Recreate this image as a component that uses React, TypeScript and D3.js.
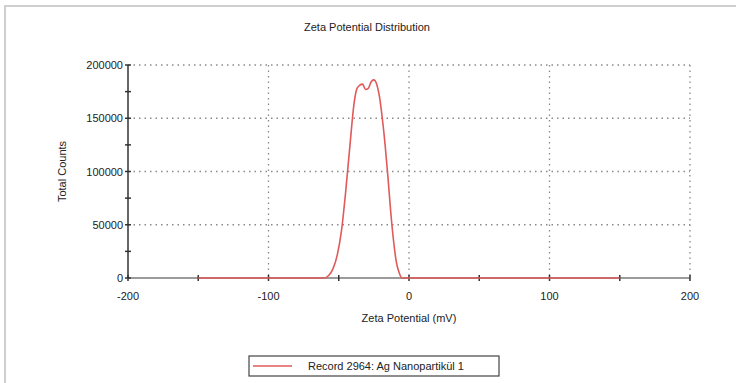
import React from 'react';
import * as d3 from 'd3';

// zeta potential (mV) vs total counts
const potential = [-150, -60, -57, -54, -51, -48, -45, -42, -39, -37, -35, -33, -31, -29, -27, -25, -23, -21, -19, -17, -15, -13, -11, -9, -7, -5, 150];
const counts = [0, 0, 2500, 9000, 22000, 45000, 82000, 125000, 165000, 178000, 181000, 182000, 177000, 178000, 184000, 186000, 182000, 170000, 150000, 125000, 95000, 62000, 35000, 15000, 5000, 0, 0];

const xTicks = [-200, -100, 0, 100, 200];
const xMinor = [-150, -50, 50, 150];
const yTicks = [0, 50000, 100000, 150000, 200000];
const yMinor = [25000, 75000, 125000, 175000];

const title = 'Zeta Potential Distribution';
const xTitle = 'Zeta Potential (mV)';
const yTitle = 'Total Counts';
const legendLabel = 'Record 2964: Ag Nanopartikül 1';

const W = 736;
const H = 383;
const left = 128;
const right = 690;
const top = 65;
const bottom = 278;
const font = '"Liberation Sans", Arial, sans-serif';

export default function App() {
  const x = d3.scaleLinear().domain([-200, 200]).range([left, right]);
  const y = d3.scaleLinear().domain([0, 200000]).range([bottom, top]);

  const pts = potential.map((p, i) => [p, counts[i]] as [number, number]);
  const line = d3.line<[number, number]>()
    .x(d => x(d[0]))
    .y(d => y(d[1]))
    .curve(d3.curveMonotoneX);

  return (
    <div style={{ position: 'fixed', left: 0, top: 0 }}>
      <svg width={W} height={H} style={{ display: 'block', background: '#fff' }} fontFamily={font}>
        {/* outer frame */}
        <rect x={5} y={6} width={W + 20} height={H + 20} fill="none" stroke="#cfcfcf" strokeWidth={2} />

        <text x={367} y={31} textAnchor="middle" fontSize={11} fill="#222">{title}</text>

        {/* grid */}
        {yTicks.filter(t => t > 0).map(t => (
          <line key={'gy' + t} x1={left} x2={right} y1={y(t)} y2={y(t)} stroke="#8a8a8a" strokeWidth={1.3} strokeDasharray="1.5,4" />
        ))}
        {xTicks.filter(t => t > -200).map(t => (
          <line key={'gx' + t} x1={x(t)} x2={x(t)} y1={top} y2={bottom} stroke="#8a8a8a" strokeWidth={1.3} strokeDasharray="1.5,4" />
        ))}

        {/* axes */}
        <line x1={left} x2={right} y1={bottom} y2={bottom} stroke="#7a7a7a" strokeWidth={1.5} />
        <line x1={left} x2={left} y1={top} y2={bottom} stroke="#333" strokeWidth={1.5} />

        {[...xTicks, ...xMinor].map(t => (
          <line key={'tx' + t} x1={x(t)} x2={x(t)} y1={bottom - 3} y2={bottom + 3} stroke="#333" strokeWidth={1.5} />
        ))}
        {[...yTicks, ...yMinor].map(t => (
          <line key={'ty' + t} x1={left - 3} x2={left + 3} y1={y(t)} y2={y(t)} stroke="#333" strokeWidth={1.5} />
        ))}

        {/* data */}
        <path d={line(pts) ?? ''} fill="none" stroke="#e05a5a" strokeWidth={1.6} />

        {/* labels */}
        {yTicks.map(t => (
          <text key={'ly' + t} x={left - 5} y={y(t) + 4} textAnchor="end" fontSize={11} fill="#222">{t}</text>
        ))}
        {xTicks.map(t => (
          <text key={'lx' + t} x={x(t)} y={bottom + 22} textAnchor="middle" fontSize={11} fill="#222">{t}</text>
        ))}
        <text x={409} y={322} textAnchor="middle" fontSize={11} fill="#222">{xTitle}</text>
        <text transform={`translate(66,${(top + bottom) / 2}) rotate(-90)`} textAnchor="middle" fontSize={11} fill="#222">{yTitle}</text>

        {/* legend */}
        <rect x={249} y={356} width={250} height={20} fill="#fff" stroke="#444" strokeWidth={1.2} />
        <line x1={253} x2={292} y1={366} y2={366} stroke="#e05a5a" strokeWidth={1.5} />
        <text x={308} y={370} fontSize={11} fill="#222">{legendLabel}</text>
      </svg>
    </div>
  );
}
